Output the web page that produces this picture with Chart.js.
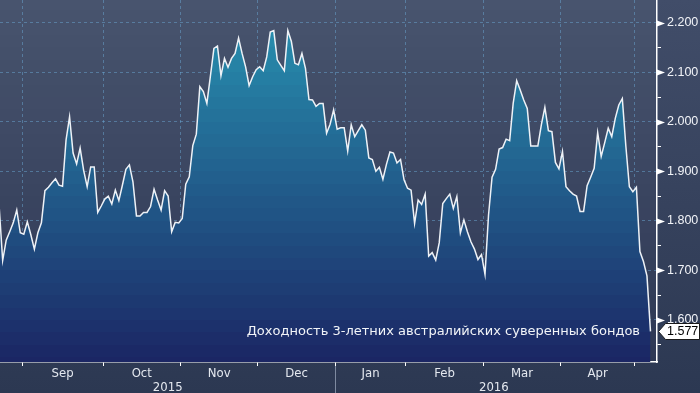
<!DOCTYPE html>
<html>
<head>
<meta charset="utf-8">
<script src="https://cdn.jsdelivr.net/npm/chart.js@4.4.1/dist/chart.umd.min.js"></script>
<style>
  html, body { margin: 0; padding: 0; background: #2d3953; }
  canvas { display: block; }
</style>
</head>
<body>
<canvas id="grafico" width="700" height="393"></canvas>
<script>
// trading days per month, Aug 2015 (partial) .. May 2016 (partial)
const months = ["", "Sep", "Oct", "Nov", "Dec", "Jan", "Feb", "Mar", "Apr", ""];
const pointsPerMonth = [7, 23, 22, 22, 22, 20, 22, 22, 21, 5];
const years = ["2015", "2016"];
const monthsPerYear = [5, 5];
const seriesName = "Доходность 3-летних австралийских суверенных бондов";

const yields = [
  1.829, 1.720, 1.761, 1.778, 1.796, 1.822, 1.776,
  1.773, 1.798, 1.772, 1.743, 1.776, 1.796, 1.861, 1.868, 1.877, 1.885, 1.872, 1.870,
  1.963, 2.010, 1.937, 1.915, 1.947, 1.902, 1.869, 1.909, 1.909, 1.817, 1.830,
  1.844, 1.850, 1.834, 1.862, 1.841, 1.872, 1.904, 1.913, 1.879, 1.810, 1.810,
  1.817, 1.817, 1.829, 1.864, 1.842, 1.822, 1.861, 1.850, 1.778, 1.797, 1.796,
  1.805, 1.874, 1.889, 1.952, 1.975, 2.071, 2.061, 2.037, 2.092, 2.148, 2.153,
  2.093, 2.128, 2.110, 2.128, 2.138, 2.169, 2.138, 2.111, 2.073, 2.091, 2.105,
  2.111, 2.103, 2.131, 2.181, 2.184, 2.125, 2.114, 2.103, 2.184, 2.162, 2.118,
  2.115, 2.138, 2.108, 2.045, 2.044, 2.031, 2.037, 2.037, 1.977, 1.995, 2.024,
  1.985, 1.988, 1.988, 1.941, 1.994, 1.970, 1.982, 1.994, 1.983, 1.927,
  1.924, 1.900, 1.908, 1.884, 1.914, 1.939, 1.937, 1.917, 1.924, 1.883,
  1.866, 1.862, 1.795, 1.842, 1.833, 1.854, 1.729, 1.736, 1.721, 1.756, 1.835,
  1.845, 1.854, 1.825, 1.849, 1.776, 1.802, 1.778, 1.758, 1.743, 1.722, 1.732,
  1.692, 1.812, 1.888, 1.904, 1.945, 1.948, 1.965, 1.962, 2.037, 2.083, 2.064,
  2.044, 2.027, 1.951, 1.951, 1.951, 1.994, 2.029, 1.982, 1.980, 1.918, 1.905,
  1.940, 1.869, 1.861, 1.854, 1.850, 1.819, 1.819, 1.871, 1.888, 1.906, 1.978,
  1.930, 1.958, 1.987, 1.970, 2.007, 2.034, 2.047, 1.951, 1.869, 1.859,
  1.868, 1.738, 1.718, 1.689, 1.577
];

const X_MIN = 0.24, X_MAX = 186.85;
const Y_MIN = 1.5152, Y_MAX = 2.2458;
const FONT_AXIS = "'Liberation Sans', Arial, sans-serif";
const FONT_NARROW = "'Liberation Sans Narrow', 'DejaVu Sans Condensed', 'Liberation Sans', sans-serif";

// month boundaries in point-index units
const monthStart = [];
pointsPerMonth.reduce((acc, n) => { monthStart.push(acc - 0.5); return acc + n; }, 0);
const monthEnd = monthStart.map((s, i) => s + pointsPerMonth[i]);
const boundaries = monthStart.filter(v => v > X_MIN && v < X_MAX);

const isMajor = v => Math.abs(Math.round(v * 10) - v * 10) < 1e-6;

function bandas(ctx, y, area, c0, c1) {
  const g = ctx.createLinearGradient(0, area.top, 0, area.bottom);
  const passo = 0.025;
  const h = area.bottom - area.top;
  for (let v = Math.ceil(Y_MAX / passo) * passo; v > Y_MIN; v -= passo) {
    const t = Math.min(1, Math.max(0, (Y_MAX - (v - passo / 2)) / (Y_MAX - Y_MIN)));
    const cor = `rgb(${c0.map((c, k) => Math.round(c + (c1[k] - c) * t)).join(",")})`;
    const f0 = Math.min(1, Math.max(0, (y.getPixelForValue(v) - area.top) / h));
    const f1 = Math.min(1, Math.max(0, (y.getPixelForValue(v - passo) - area.top) / h));
    g.addColorStop(f0, cor);
    g.addColorStop(f1, cor);
  }
  return g;
}

const fundoPlugin = {
  id: "fundo",
  beforeDraw(chart) {
    const { ctx, chartArea: a, scales: { y } } = chart;
    ctx.save();
    const g = ctx.createLinearGradient(0, 0, 0, chart.height);
    g.addColorStop(0, "#414d69");
    g.addColorStop(1, "#2c3852");
    ctx.fillStyle = g;
    ctx.fillRect(0, 0, chart.width, chart.height);
    ctx.fillStyle = bandas(ctx, y, a, [72, 84, 110], [46, 56, 84]);
    ctx.fillRect(a.left, a.top, a.right - a.left, a.bottom - a.top);
    ctx.restore();
  }
};

const extrasPlugin = {
  id: "extras",
  afterDraw(chart) {
    const { ctx, chartArea: a, scales: { x, y } } = chart;
    ctx.save();

    // arrow markers on the major ticks
    ctx.fillStyle = "#ffffff";
    y.ticks.filter(t => isMajor(t.value)).forEach(t => {
      const py = Math.round(y.getPixelForValue(t.value)) + 0.5;
      ctx.beginPath();
      ctx.moveTo(a.right, py - 3);
      ctx.lineTo(a.right + 8, py);
      ctx.lineTo(a.right, py + 3);
      ctx.closePath();
      ctx.fill();
    });

    // month labels
    ctx.fillStyle = "#e4e8ef";
    ctx.textAlign = "center";
    ctx.textBaseline = "middle";
    ctx.font = `13px ${FONT_NARROW}`;
    months.forEach((m, i) => {
      if (!m) return;
      const c = (Math.max(monthStart[i], X_MIN) + Math.min(monthEnd[i], X_MAX)) / 2;
      ctx.fillText(m, x.getPixelForValue(c), a.bottom + 12);
    });

    // year labels and separator
    let k = 0;
    years.forEach((ano, i) => {
      const ini = Math.max(monthStart[k], X_MIN);
      const fim = Math.min(monthEnd[k + monthsPerYear[i] - 1], X_MAX);
      ctx.fillText(ano, x.getPixelForValue((ini + fim) / 2), a.bottom + 26);
      if (i > 0) {
        const px = Math.round(x.getPixelForValue(monthStart[k])) + 0.5;
        ctx.strokeStyle = "#7e8aa0";
        ctx.lineWidth = 1;
        ctx.beginPath();
        ctx.moveTo(px, a.bottom + 4);
        ctx.lineTo(px, chart.height);
        ctx.stroke();
      }
      k += monthsPerYear[i];
    });

    // series name inside the plot
    ctx.fillStyle = "#f2f4f8";
    ctx.textAlign = "right";
    ctx.font = "13px 'DejaVu Sans', sans-serif";
    ctx.fillText(seriesName, 640, y.getPixelForValue(yields[yields.length - 1]));

    // last value tag
    const ultimo = yields[yields.length - 1];
    const py = Math.round(y.getPixelForValue(ultimo));
    ctx.beginPath();
    ctx.moveTo(a.right + 1.5, py + 0.5);
    ctx.lineTo(a.right + 8.5, py - 7.5);
    ctx.lineTo(chart.width - 0.5, py - 7.5);
    ctx.lineTo(chart.width - 0.5, py + 8.5);
    ctx.lineTo(a.right + 8.5, py + 8.5);
    ctx.closePath();
    ctx.fillStyle = "#ffffff";
    ctx.fill();
    ctx.strokeStyle = "#1a1a1a";
    ctx.lineWidth = 1;
    ctx.stroke();
    ctx.fillStyle = "#000000";
    ctx.textAlign = "left";
    ctx.font = `12.5px ${FONT_AXIS}`;
    ctx.fillText(ultimo.toFixed(3), a.right + 10, py + 1);

    ctx.restore();
  }
};

const gridCor = "rgba(105, 165, 210, 0.5)";

new Chart(document.getElementById("grafico"), {
  type: "line",
  data: {
    datasets: [{
      label: seriesName,
      data: yields.map((v, i) => ({ x: i, y: v })),
      borderColor: "#eef2f7",
      borderWidth: 1.5,
      pointRadius: 0,
      tension: 0,
      fill: "start",
      backgroundColor: c => {
        const ch = c.chart;
        if (!ch.chartArea) return "transparent";
        return bandas(ch.ctx, ch.scales.y, ch.chartArea, [40, 150, 180], [27, 38, 100]);
      }
    }]
  },
  options: {
    responsive: false,
    devicePixelRatio: 1,
    animation: false,
    layout: { padding: 0 },
    plugins: { legend: { display: false }, tooltip: { enabled: false } },
    scales: {
      x: {
        type: "linear",
        min: X_MIN,
        max: X_MAX,
        afterBuildTicks: s => { s.ticks = boundaries.map(v => ({ value: v })); },
        afterFit: s => { s.height = 31; s.paddingLeft = 0; s.paddingRight = 0; },
        ticks: { callback: () => "", autoSkip: false, maxRotation: 0 },
        grid: { color: gridCor, tickColor: "#ffffff", tickLength: 4, lineWidth: 1 },
        border: { color: "#ffffff", width: 1.5, dash: [3, 3] }
      },
      y: {
        position: "right",
        min: Y_MIN,
        max: Y_MAX,
        afterFit: s => { s.width = 43; s.paddingTop = 0; s.paddingBottom = 0; },
        ticks: {
          stepSize: 0.05,
          includeBounds: false,
          autoSkip: false,
          padding: 6,
          color: "#f2f4f8",
          font: { family: FONT_AXIS, size: 12.5 },
          callback: v => isMajor(v) ? v.toFixed(3) : ""
        },
        grid: {
          color: c => c.tick && isMajor(c.tick.value) ? gridCor : "transparent",
          tickColor: c => c.tick && !isMajor(c.tick.value) ? "#ffffff" : "transparent",
          tickLength: 4,
          lineWidth: 1
        },
        border: { color: "#ffffff", width: 1.5, dash: [3, 3] }
      }
    }
  },
  plugins: [fundoPlugin, extrasPlugin]
});
</script>
</body>
</html>
